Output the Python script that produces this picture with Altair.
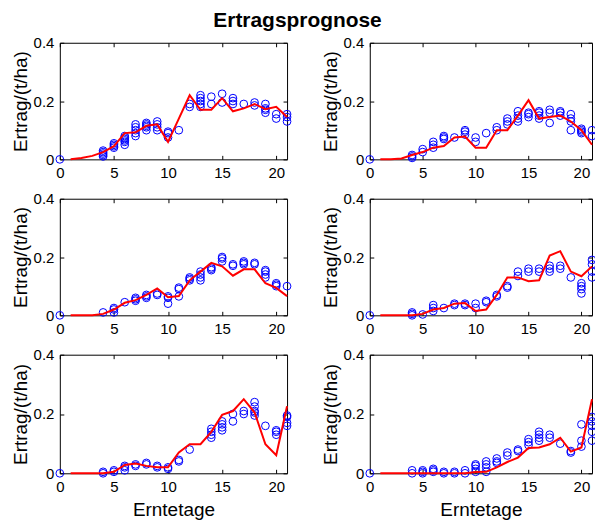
import altair as alt
import pandas as pd

FONT = "Liberation Sans"

TITLE = "Ertragsprognose"
X_TITLE = "Erntetage"
Y_TITLE = "Ertrag/(t/ha)"
X_TICKS = [0, 5, 10, 15, 20]
Y_TICKS = [0, 0.2, 0.4]

# model prediction (red line), days 1..21
DAYS_LINE = list(range(1, 22))
LINE_1 = [0, 0.005, 0.012, 0.025, 0.045, 0.09, 0.093, 0.115, 0.12, 0.06, 0.14, 0.22, 0.17, 0.17, 0.21, 0.165, 0.175, 0.19, 0.172, 0.18, 0.145]
LINE_2 = [0, 0, 0.003, 0.015, 0.025, 0.04, 0.046, 0.075, 0.078, 0.04, 0.04, 0.1, 0.1, 0.15, 0.203, 0.14, 0.145, 0.15, 0.13, 0.1, 0.05]
LINE_3 = [0, 0, 0, 0.005, 0.02, 0.043, 0.052, 0.07, 0.092, 0.062, 0.066, 0.12, 0.15, 0.18, 0.168, 0.136, 0.158, 0.158, 0.11, 0.094, 0.066]
LINE_4 = [0, 0, 0, 0, 0.005, 0.02, 0.025, 0.04, 0.042, 0.015, 0.02, 0.07, 0.13, 0.13, 0.117, 0.12, 0.205, 0.22, 0.15, 0.134, 0.168]
LINE_5 = [0, 0, 0, 0, 0.005, 0.028, 0.033, 0.025, 0.02, 0.02, 0.07, 0.098, 0.098, 0.14, 0.197, 0.21, 0.25, 0.205, 0.098, 0.061, 0.226]
LINE_6 = [0, 0, 0, 0, 0, 0, 0, 0, 0, 0.004, 0.005, 0.02, 0.038, 0.053, 0.085, 0.087, 0.098, 0.12, 0.073, 0.087, 0.25]

# measured yields (blue circles): (day, [values])
PTS_1 = [(0, [0]), (4, [0.01, 0.015, 0.02, 0.025, 0.03]), (5, [0.04, 0.045, 0.05, 0.055]),
         (6, [0.05, 0.06, 0.065, 0.07, 0.075, 0.08]), (7, [0.08, 0.09, 0.1, 0.11, 0.12]),
         (8, [0.1, 0.11, 0.115, 0.12, 0.125]), (9, [0.1, 0.11, 0.12, 0.13]), (10, [0.075, 0.09, 0.095]),
         (11, [0.1]), (12, [0.18, 0.19]), (13, [0.18, 0.19, 0.2, 0.21, 0.22]), (14, [0.19, 0.215]),
         (15, [0.195, 0.225]), (16, [0.19, 0.2, 0.21]), (17, [0.19]), (18, [0.185, 0.195]),
         (19, [0.16, 0.17, 0.175, 0.19]), (20, [0.14, 0.155]), (21, [0.13, 0.145, 0.155])]
PTS_2 = [(0, [0]), (4, [0.005, 0.01, 0.015]), (5, [0.025, 0.035]), (6, [0.04, 0.05, 0.06]),
         (7, [0.07, 0.075, 0.08]), (8, [0.075]), (9, [0.085, 0.095, 0.1]), (10, [0.06, 0.075]),
         (11, [0.09]), (12, [0.1, 0.11]), (13, [0.12, 0.13, 0.14]), (14, [0.13, 0.14, 0.15, 0.165]),
         (15, [0.145, 0.155, 0.16]), (16, [0.14, 0.15, 0.16, 0.165]), (17, [0.125, 0.16, 0.17]),
         (18, [0.15, 0.16, 0.165]), (19, [0.1, 0.13, 0.14, 0.155]), (20, [0.09, 0.095, 0.1, 0.105]),
         (21, [0.08, 0.1])]
PTS_3 = [(0, [0]), (4, [0.01]), (5, [0.01, 0.02, 0.025]), (6, [0.045]), (7, [0.05, 0.055, 0.06]),
         (8, [0.06, 0.065, 0.07]), (9, [0.07, 0.075]), (10, [0.04, 0.06, 0.065]), (11, [0.065, 0.09, 0.095]),
         (12, [0.12, 0.125, 0.13]), (13, [0.12, 0.13, 0.14, 0.15]), (14, [0.155, 0.16, 0.165]),
         (15, [0.185, 0.195, 0.2]), (16, [0.17, 0.175]), (17, [0.175, 0.18, 0.185]), (18, [0.175, 0.18]),
         (19, [0.13, 0.14, 0.15, 0.155]), (20, [0.1, 0.105, 0.11]), (21, [0.1])]
PTS_4 = [(0, [0]), (4, [0.0, 0.005, 0.01]), (5, [0.003]), (6, [0.015, 0.025, 0.035]), (7, [0.025]),
         (8, [0.035, 0.04]), (9, [0.035, 0.04]), (10, [0.025, 0.04]), (11, [0.045, 0.05]),
         (12, [0.065, 0.07]), (13, [0.095, 0.1]), (14, [0.135, 0.15]), (15, [0.15, 0.16]),
         (16, [0.15, 0.16]), (17, [0.15, 0.16, 0.17]), (18, [0.16, 0.17]), (19, [0.13]),
         (20, [0.075, 0.09, 0.1, 0.11]), (21, [0.13, 0.15, 0.175, 0.19])]
PTS_5 = [(0, [0]), (4, [0.0, 0.005]), (5, [0.005, 0.01]), (6, [0.01, 0.02, 0.025]), (7, [0.025, 0.03]),
         (8, [0.03, 0.035]), (9, [0.02, 0.025]), (10, [0.015, 0.02]), (11, [0.04, 0.045]), (12, [0.08]),
         (14, [0.12, 0.13, 0.14, 0.15]), (15, [0.145, 0.155, 0.165, 0.175]), (16, [0.175, 0.2]),
         (17, [0.2, 0.21]), (18, [0.195, 0.205, 0.21, 0.225, 0.24]), (19, [0.16]),
         (20, [0.13, 0.14, 0.145]), (21, [0.16, 0.17, 0.19, 0.195])]
PTS_6 = [(0, [0]), (4, [0.0, 0.01]), (5, [0.0, 0.005, 0.01]), (6, [0.005, 0.01, 0.015]), (7, [0.0, 0.005]),
         (8, [0.0, 0.005]), (9, [0.0, 0.01]), (10, [0.005, 0.015, 0.025, 0.03]),
         (11, [0.005, 0.02, 0.03, 0.04]), (12, [0.035, 0.04, 0.05]), (13, [0.06, 0.07]), (14, [0.075, 0.08]),
         (15, [0.095, 0.105, 0.115]), (16, [0.11, 0.12, 0.13, 0.14]), (17, [0.12, 0.13]), (18, [0.1]),
         (19, [0.07, 0.075]), (20, [0.09, 0.11, 0.165]), (21, [0.11, 0.14, 0.16, 0.175, 0.19])]


def tick_axis(orient, values):
    return alt.Axis(orient=orient, values=values, labels=False, domain=False, ticks=True,
                    tickSize=4, tickColor="black", tickWidth=1, offset=-4, grid=False, title=None)


def panel(line_vals, pts, bottom, width, height):
    line_df = pd.DataFrame({"day": DAYS_LINE, "ertrag": line_vals})
    pts_df = pd.DataFrame([{"day": d, "ertrag": v} for d, vs in pts for v in vs])
    xs = alt.Scale(domain=[0, 21], nice=False, zero=False)
    ys = alt.Scale(domain=[0, 0.4], nice=False)

    x_lab = dict(values=X_TICKS, ticks=False, domain=False, grid=False, labelPadding=6,
                 labelFlush=False, labelOverlap=False, titlePadding=6)
    x_lab["title"] = X_TITLE if bottom else None
    y_lab = alt.Axis(values=Y_TICKS, ticks=False, domain=False, grid=False, labelPadding=6,
                     format="~g", labelOverlap=False, title=Y_TITLE, titlePadding=3)

    points = alt.Chart(pts_df).mark_point(
        shape="circle", filled=False, color="#0000ff", size=60, strokeWidth=1, opacity=1
    ).encode(
        x=alt.X("day:Q", scale=xs, axis=alt.Axis(**x_lab)),
        y=alt.Y("ertrag:Q", scale=ys, axis=y_lab),
    )
    line = alt.Chart(line_df).mark_line(color="#ff0000", strokeWidth=2).encode(
        x=alt.X("day:Q", scale=xs, axis=tick_axis("bottom", X_TICKS)),
        y=alt.Y("ertrag:Q", scale=ys, axis=tick_axis("left", Y_TICKS)),
    )
    ghost = alt.Chart(line_df).mark_line(opacity=0).encode(
        x=alt.X("day:Q", scale=xs, axis=tick_axis("top", X_TICKS)),
        y=alt.Y("ertrag:Q", scale=ys, axis=tick_axis("right", Y_TICKS)),
    )
    return alt.layer(points, line, ghost).resolve_axis(
        x="independent", y="independent"
    ).properties(width=width, height=height)


LEFT_W, RIGHT_W = 228, 223
panels = [
    panel(LINE_1, PTS_1, False, LEFT_W, 117),
    panel(LINE_2, PTS_2, False, RIGHT_W, 117),
    panel(LINE_3, PTS_3, False, LEFT_W, 117),
    panel(LINE_4, PTS_4, False, RIGHT_W, 117),
    panel(LINE_5, PTS_5, True, LEFT_W, 119),
    panel(LINE_6, PTS_6, True, RIGHT_W, 119),
]

chart = alt.concat(
    *panels, columns=2, spacing={"row": 39.5, "column": 83}, bounds="flush"
).properties(
    title=alt.Title(TITLE, font=FONT, fontSize=21, fontWeight="bold", color="black",
                    anchor="middle", frame="bounds", dx=-7, offset=4),
    padding={"left": 2, "top": 1, "right": -4, "bottom": 0},
).configure_view(
    stroke="black", strokeWidth=1
).configure_axis(
    labelFont=FONT, labelFontSize=15, labelColor="black",
    titleFont=FONT, titleFontSize=19, titleFontWeight="normal", titleColor="black",
)

chart.save("out.html", embed_options={"renderer": "svg", "actions": False})
